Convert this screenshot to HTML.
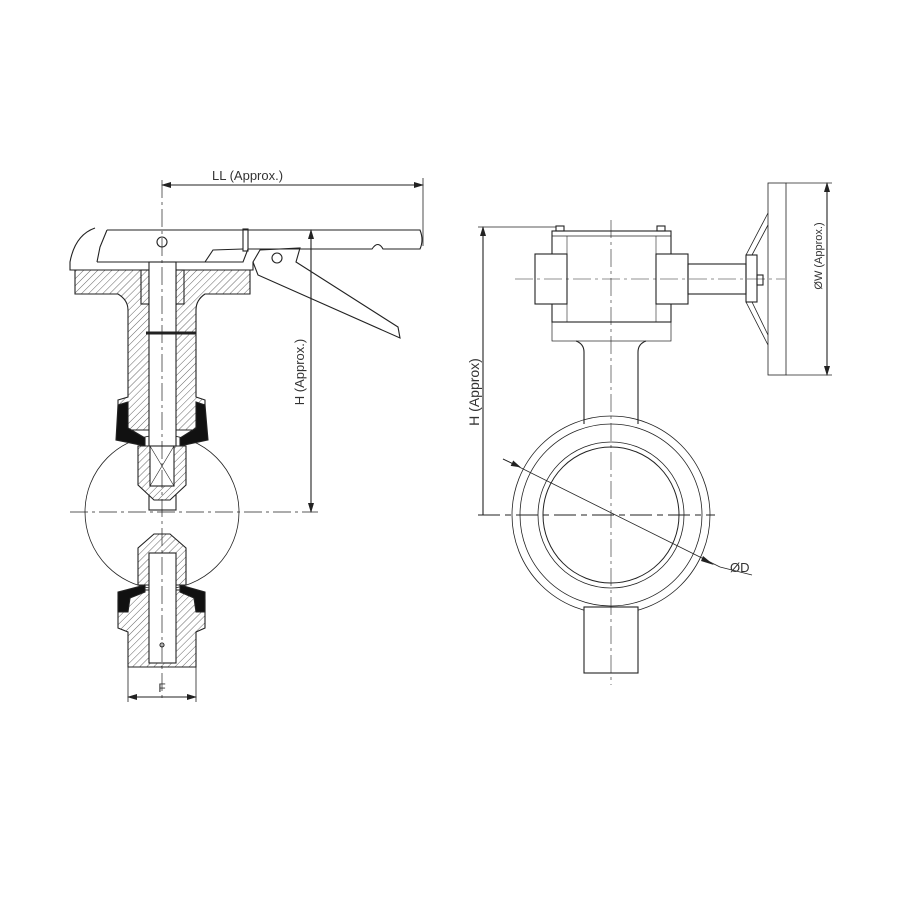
<!DOCTYPE html>
<html><head><meta charset="utf-8"><style>
html,body{margin:0;padding:0;background:#fff;width:900px;height:900px;overflow:hidden}
text{font-family:"Liberation Sans",sans-serif;fill:#333}
</style></head><body>
<svg width="900" height="900" viewBox="0 0 900 900" xmlns="http://www.w3.org/2000/svg">
<defs>
<pattern id="h" width="5" height="5" patternUnits="userSpaceOnUse" patternTransform="rotate(45)">
<rect width="5" height="5" fill="#fff"/><line x1="0" y1="0" x2="0" y2="5" stroke="#666" stroke-width="1"/></pattern>
<marker id="a" markerWidth="10" markerHeight="6" refX="9" refY="3" orient="auto-start-reverse" markerUnits="userSpaceOnUse"><path d="M0,0 L10,3 L0,6z" fill="#222"/></marker>
</defs>
<g fill="none" stroke="#222" stroke-width="1.1">
<!-- LEFT VIEW -->
<line x1="162" y1="185" x2="423" y2="185" marker-start="url(#a)" marker-end="url(#a)"/>
<line x1="423" y1="178" x2="423" y2="246" stroke-width="0.8"/>
<!-- disc full circle -->
<circle cx="162" cy="512" r="77" stroke-width="0.8"/>
<!-- handle -->
<path d="M107,230 L420,230 Q424,240 420,249 L383,249 Q378,240 372,249 L248,249 L243,262 L97,262"/>
<path d="M243,249 L213,250 L205,262"/>
<path d="M107,230 L100,247 L97,262" />
<path d="M95,228 Q75,235 70,262 L70,270 L253,270 L253,262"/>
<circle cx="162" cy="242" r="5"/>
<rect x="243" y="229" width="5" height="22"/>
<!-- lever -->
<path d="M253,262 L260,250 L300,248 L296,262 L398,327 L400,338 L258,275 Z"/>
<circle cx="277" cy="258" r="5"/>
<!-- flange & neck -->
<path d="M75,270 L250,270 L250,294 L205,294 Q196,300 196,310 L196,397 L205,400 L205,430 L118,430 L118,400 L128,397 L128,310 Q128,300 118,294 L75,294 Z" fill="url(#h)"/>
<rect x="141" y="270" width="8" height="34" fill="url(#h)"/>
<rect x="176" y="270" width="8" height="34" fill="url(#h)"/>
<rect x="149" y="262" width="27" height="248" fill="#fff"/>
<line x1="146" y1="333" x2="196" y2="333" stroke-width="3"/>
<!-- seals top -->
<path d="M118,405 L128,402 L128,428 L145,438 L145,446 L116,440 Z" fill="#111"/>
<path d="M205,405 L196,402 L196,428 L180,438 L180,446 L208,440 Z" fill="#111"/>
<!-- top hub -->
<path d="M138,446 L186,446 L186,485 L170,500 L154,500 L138,485 Z" fill="url(#h)"/>
<rect x="150" y="446" width="24" height="40" fill="#fff"/>
<path d="M150,446 L174,486 M174,446 L150,486" stroke-width="0.6"/>
<!-- bottom hub -->
<path d="M138,585 L138,548 L154,534 L170,534 L186,548 L186,585 Z" fill="url(#h)"/>
<!-- lower body -->
<path d="M118,600 L128,598 L128,590 L196,590 L196,598 L205,600 L205,628 L196,632 L196,667 L128,667 L128,632 L118,628 Z" fill="url(#h)"/>
<path d="M118,592 L145,585 L145,592 L130,598 L128,612 L118,612 Z" fill="#111"/>
<path d="M205,592 L180,585 L180,592 L194,598 L196,612 L205,612 Z" fill="#111"/>
<rect x="149" y="553" width="27" height="110" fill="#fff"/>
<circle cx="162" cy="645" r="2"/>
<!-- centerlines -->
<line x1="162" y1="180" x2="162" y2="700" stroke-dasharray="18,4,3,4" stroke-width="0.7"/>
<line x1="70" y1="512" x2="318" y2="512" stroke-dasharray="18,4,3,4" stroke-width="0.8"/>
<!-- H dim left -->
<line x1="311" y1="230" x2="311" y2="512" marker-start="url(#a)" marker-end="url(#a)"/>
<line x1="300" y1="230" x2="318" y2="230" stroke-width="0.8"/>
<!-- F dim -->
<line x1="128" y1="667" x2="128" y2="702" stroke-width="0.8"/>
<line x1="196" y1="667" x2="196" y2="702" stroke-width="0.8"/>
<line x1="128" y1="697" x2="196" y2="697" marker-start="url(#a)" marker-end="url(#a)"/>

<!-- RIGHT VIEW -->
<rect x="552" y="231" width="119" height="91"/>
<line x1="552" y1="236" x2="671" y2="236" stroke-width="0.8"/>
<line x1="567" y1="236" x2="567" y2="322" stroke-width="0.6"/>
<line x1="656" y1="236" x2="656" y2="322" stroke-width="0.6"/>
<rect x="552" y="322" width="119" height="19" stroke-width="0.7"/>
<rect x="556" y="226" width="8" height="5"/><rect x="657" y="226" width="8" height="5"/>
<rect x="535" y="254" width="32" height="50" fill="#fff"/>
<rect x="656" y="254" width="32" height="50" fill="#fff"/>
<rect x="688" y="264" width="58" height="30"/>
<rect x="746" y="255" width="11" height="47"/>
<rect x="757" y="275" width="6" height="10"/>
<rect x="768" y="183" width="18" height="192" stroke-width="0.8"/>
<line x1="786" y1="183" x2="832" y2="183" stroke-width="0.8"/>
<line x1="786" y1="375" x2="832" y2="375" stroke-width="0.8"/>
<path d="M746,255 L768,213 M752,255 L768,225 M746,302 L768,345 M752,302 L768,335" stroke-width="0.8"/>
<line x1="827" y1="183" x2="827" y2="375" marker-start="url(#a)" marker-end="url(#a)"/>
<path d="M576,341 Q584,344 584,352 L584,424 M646,341 Q638,344 638,352 L638,424"/>
<circle cx="611" cy="515" r="99" stroke-width="0.8"/>
<circle cx="611" cy="515" r="91" stroke-width="0.8"/>
<circle cx="611" cy="515" r="73" stroke-width="0.8"/>
<circle cx="611" cy="515" r="68" stroke-width="1"/>
<rect x="584" y="607" width="54" height="66" fill="#fff"/>
<line x1="611" y1="220" x2="611" y2="685" stroke-dasharray="18,4,3,4" stroke-width="0.6"/>
<line x1="515" y1="279" x2="785" y2="279" stroke-dasharray="18,4,3,4" stroke-width="0.6"/>
<line x1="478" y1="515" x2="715" y2="515" stroke-dasharray="22,5,6,5" stroke-width="1"/>
<line x1="483" y1="227" x2="483" y2="515" marker-start="url(#a)"/>
<line x1="478" y1="227" x2="556" y2="227" stroke-width="0.8"/>
<line x1="503" y1="459" x2="720" y2="567" stroke-width="0.8"/>
<path d="M503,459 L520,467" marker-end="url(#a)" stroke-width="0.8"/>
<line x1="720" y1="567" x2="752" y2="575" stroke-width="0.8"/>
</g>
<polygon points="714,565 703,556 701,561" fill="#222"/>
<text x="212" y="180" font-size="13">LL (Approx.)</text>
<text transform="translate(304,372) rotate(-90)" font-size="13" text-anchor="middle">H (Approx.)</text>
<text x="162" y="692" font-size="12" text-anchor="middle">F</text>
<text transform="translate(479,392) rotate(-90)" font-size="14" text-anchor="middle">H (Approx)</text>
<text transform="translate(822,256) rotate(-90)" font-size="11" text-anchor="middle">ØW  (Approx.)</text>
<text x="730" y="572" font-size="13">ØD</text>
</svg>
</body></html>
